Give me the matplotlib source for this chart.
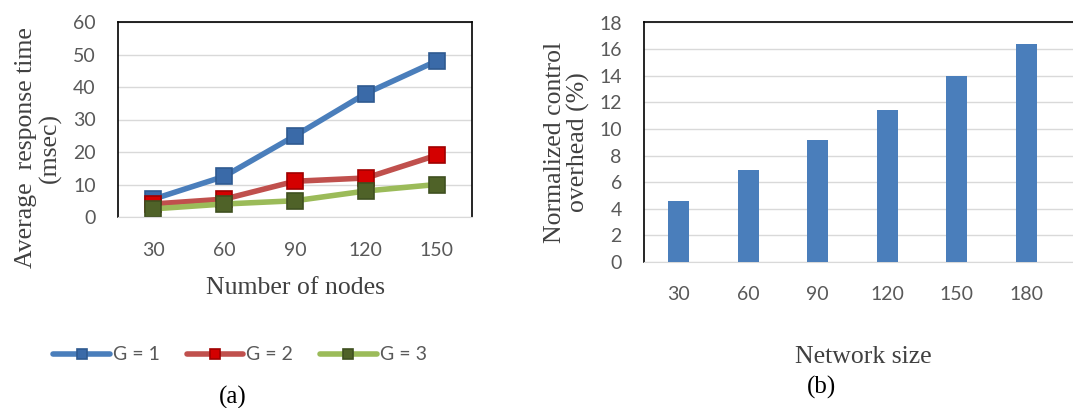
import matplotlib
matplotlib.use("Agg")
import matplotlib.pyplot as plt
import numpy as np

# ---- data ----
nodes = ["30", "60", "90", "120", "150"]
g1 = [5.5, 12.5, 25, 38, 48]
g2 = [4, 5.5, 11, 12, 19]
g3 = [2.5, 4, 5, 8, 10]
series_labels = ["G = 1", "G = 2", "G = 3"]

sizes = ["30", "60", "90", "120", "150", "180"]
overhead = [4.6, 6.9, 9.2, 11.4, 14.0, 16.4]

W, H = 1073, 408
fig = plt.figure(figsize=(W / 100, H / 100), dpi=100)

tick_font = "Lato"
serif = "Liberation Serif"
tick_color = "#595959"
label_color = "#404040"
grid_color = "#d9d9d9"

def fx(px):
    return px / W

def fy(py):
    return 1 - py / H

# ---- left chart ----
axL = fig.add_axes([fx(118), fy(217), fx(472 - 118), fy(22) - fy(217)])
x = np.arange(len(nodes))
styles = [
    (g1, "#4a7ebb", "#3a6aa8", "#2f5a90"),
    (g2, "#c0504d", "#d40000", "#a00000"),
    (g3, "#9bbb59", "#4f6228", "#3f5020"),
]
handles = []
for (vals, lc, mc, me), lab in zip(styles, series_labels):
    h, = axL.plot(x, vals, color=lc, lw=4, marker="s", ms=11,
                  markerfacecolor=mc, markeredgecolor=me, markeredgewidth=1.2,
                  label=lab, solid_capstyle="round")
    handles.append(h)
axL.set_xlim(-0.5, len(nodes) - 0.5)
axL.set_ylim(0, 60)
axL.set_yticks(np.arange(0, 61, 10))
axL.set_xticks(x)
axL.set_xticklabels(nodes)
axL.yaxis.grid(True, color=grid_color, lw=1)
axL.set_axisbelow(True)
for s in ["left", "top", "right"]:
    axL.spines[s].set_color("black")
    axL.spines[s].set_linewidth(1.2)
axL.spines["bottom"].set_color(grid_color)
axL.tick_params(length=0, labelsize=14, labelcolor=tick_color)
axL.tick_params(axis="y", pad=16)
axL.tick_params(axis="x", pad=18)
for t in axL.get_xticklabels() + axL.get_yticklabels():
    t.set_fontfamily(tick_font)

fig.text(fx(38), fy(148), "Average  response time\n(msec)", rotation=90,
         ha="center", va="center", fontsize=18.5, family=serif,
         color=label_color, linespacing=1.1, multialignment="center")
fig.text(fx(295), fy(288), "Number of nodes", ha="center", va="center",
         fontsize=18.5, family=serif, color=label_color)

leg = fig.legend(handles=handles, loc="center", bbox_to_anchor=(fx(240), fy(355)),
                 ncol=3, frameon=False, handlelength=2.9, markerscale=0.7,
                 handletextpad=0.15, columnspacing=1.4, labelcolor=tick_color,
                 prop={"family": tick_font, "size": 14})
fig.text(fx(233), fy(397), "(a)", ha="center", va="center", fontsize=18,
         family=serif, color="black")

# ---- right chart ----
axR = fig.add_axes([fx(644), fy(262), fx(W - 644), fy(22.5) - fy(262)])
xb = np.arange(len(sizes))
axR.bar(xb, overhead, width=0.3, color="#4a7ebb", zorder=3)
axR.set_xlim(-0.5, -0.5 + (W - 644) / 69.5)
axR.set_ylim(0, 18)
axR.set_yticks(np.arange(0, 19, 2))
axR.set_xticks(xb)
axR.set_xticklabels(sizes)
axR.yaxis.grid(True, color=grid_color, lw=1)
axR.set_axisbelow(True)
for s in ["left", "top"]:
    axR.spines[s].set_color("black")
    axR.spines[s].set_linewidth(1.2)
axR.spines["right"].set_visible(False)
axR.spines["bottom"].set_color(grid_color)
axR.tick_params(length=0, labelsize=14, labelcolor=tick_color)
axR.tick_params(axis="y", pad=16)
axR.tick_params(axis="x", pad=17)
for t in axR.get_xticklabels() + axR.get_yticklabels():
    t.set_fontfamily(tick_font)

fig.text(fx(567), fy(142), "Normalized control\noverhead (%)", rotation=90,
         ha="center", va="center", fontsize=18.5, family=serif,
         color=label_color, linespacing=1.1, multialignment="center")
fig.text(fx(863), fy(357), "Network size", ha="center", va="center",
         fontsize=18.5, family=serif, color=label_color)
fig.text(fx(822), fy(387), "(b)", ha="center", va="center", fontsize=18,
         family=serif, color="black")

fig.savefig("out.png", dpi=100)
